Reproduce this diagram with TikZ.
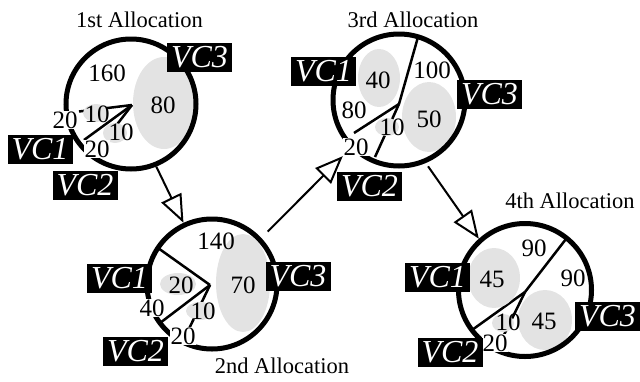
\documentclass[tikz,border=0pt]{standalone}
\usepackage{fontspec}
\setmainfont{Liberation Serif}
\usetikzlibrary{arrows.meta}
\definecolor{lg}{gray}{0.89}
\begin{document}
\begin{tikzpicture}[x=1pt,y=-1pt,
  ring/.style={circle,draw,line width=5pt,inner sep=0pt,minimum size=#1},
  spoke/.style={line width=2.5pt},
  blob/.style={fill=lg,draw=none},
  num/.style={font=\fontsize{25}{25}\selectfont,inner sep=0.5pt},
  numw/.style={num,fill=white},
  vc/.style={fill=black,text=white,font=\fontsize{32}{32}\selectfont\itshape,inner sep=0pt,minimum width=65pt,minimum height=29pt},
  captxt/.style={font=\fontsize{22.5}{22.5}\selectfont,inner sep=0pt,anchor=base},
  flow/.style={line width=2pt,-{Triangle[length=28pt,width=22pt,fill=white]}}
]
\useasboundingbox (0,0) rectangle (640,381);
% centres of the pies
\coordinate (p1) at (132,105);
\coordinate (p2) at (210,285);
\coordinate (p3) at (399,104);
\coordinate (p4) at (525,292);
% spokes
\draw[spoke] (p1) -- (79,111.5);
\draw[spoke] (p1) -- (84,140);
\draw[spoke] (p1) -- (112,131);
\draw[spoke] (p2) -- (158,248);
\draw[spoke] (p2) -- (160,323);
\draw[spoke] (p2) -- (187,333);
\draw[spoke] (p3) -- (418,37);
\draw[spoke] (p3) -- (354,133);
\draw[spoke] (p3) -- (375,157);
\draw[spoke] (p4) -- (566,239);
\draw[spoke] (p4) -- (472,330);
\draw[spoke] (p4) -- (503,337);
% grey shares
\fill[blob] (164,103) ellipse [x radius=31pt, y radius=46pt];
\fill[blob] (96,113) ellipse [x radius=13pt, y radius=9pt];
\fill[blob] (115,133) ellipse [x radius=12pt, y radius=10pt];
\fill[blob] (243,283) ellipse [x radius=27pt, y radius=49pt];
\fill[blob] (178,284) ellipse [x radius=18pt, y radius=11pt];
\fill[blob] (200,311) ellipse [x radius=14pt, y radius=9pt];
\fill[blob] (379,78) ellipse [x radius=21pt, y radius=29pt];
\fill[blob] (429,117) ellipse [x radius=27pt, y radius=35pt];
\fill[blob] (387,127) ellipse [x radius=12pt, y radius=9pt];
\fill[blob] (494,278) ellipse [x radius=26pt, y radius=30pt];
\fill[blob] (545,320) ellipse [x radius=27pt, y radius=30pt];
\fill[blob] (503,323) ellipse [x radius=11pt, y radius=9pt];
% rings
\node[ring=130pt] (c1) at (131,104) {};
\node[ring=130pt] (c2) at (212,284) {};
\node[ring=132pt] (c3) at (399,100) {};
\node[ring=133pt] (c4) at (525,290) {};
% numbers, 1st
\node[num] (a160) at (107,73) {160};
\node[num] (a80) at (163,105) {80};
\node[numw] (a20u) at (65,120) {20};
\node[num] (a10u) at (97,114) {10};
\node[num] (a10l) at (121,132) {10};
\node[numw] (a20l) at (97,149) {20};
% numbers, 2nd
\node[num] (b140) at (216,241) {140};
\node[num] (b70) at (243,285) {70};
\node[num] (b20) at (181,285) {20};
\node[num] (b10) at (203,311) {10};
\node[numw] (b40) at (152,308) {40};
\node[numw] (b20l) at (183,336) {20};
% numbers, 3rd
\node[num] (c40) at (378,80) {40};
\node[num] (c100) at (432,70) {100};
\node[num] (c50) at (429,119) {50};
\node[num] (c80) at (354,110) {80};
\node[num] (c10) at (392,127) {10};
\node[numw] (c20) at (356,147) {20};
% numbers, 4th
\node[num] (d90u) at (534,248) {90};
\node[num] (d90r) at (573,278) {90};
\node[num] (d45l) at (492,279) {45};
\node[num] (d45r) at (544,321) {45};
\node[num] (d10) at (508,322) {10};
\node[numw] (d20) at (495,343) {20};
% VC boxes
\node[vc] (v13) at (199.5,57.5) {VC3};
\node[vc] (v11) at (40,149) {VC1};
\node[vc] (v12) at (85,185) {VC2};
\node[vc] (v21) at (119.5,278) {VC1};
\node[vc] (v22) at (135.5,351.5) {VC2};
\node[vc] (v23) at (298,276.5) {VC3};
\node[vc] (v31) at (323.5,71) {VC1};
\node[vc] (v33) at (489.5,94) {VC3};
\node[vc] (v32) at (369.5,186) {VC2};
\node[vc] (v41) at (437.5,277.5) {VC1};
\node[vc] (v42) at (450,352.5) {VC2};
\node[vc] (v43) at (607.5,316) {VC3};
% captions
\node[captxt] (t1) at (139.5,27) {1st Allocation};
\node[captxt] (t2) at (282,373) {2nd Allocation};
\node[captxt] (t3) at (413,27) {3rd Allocation};
\node[captxt] (t4) at (570,208) {4th Allocation};
% flow arrows
\draw[flow] (c1.-68) -- (c2.115);
\draw[flow, shorten <=9pt] (c2.43) -- (c20.south west);
\draw[flow, shorten <=4pt] (c3.-67) -- (c4.132);
\end{tikzpicture}
\end{document}
